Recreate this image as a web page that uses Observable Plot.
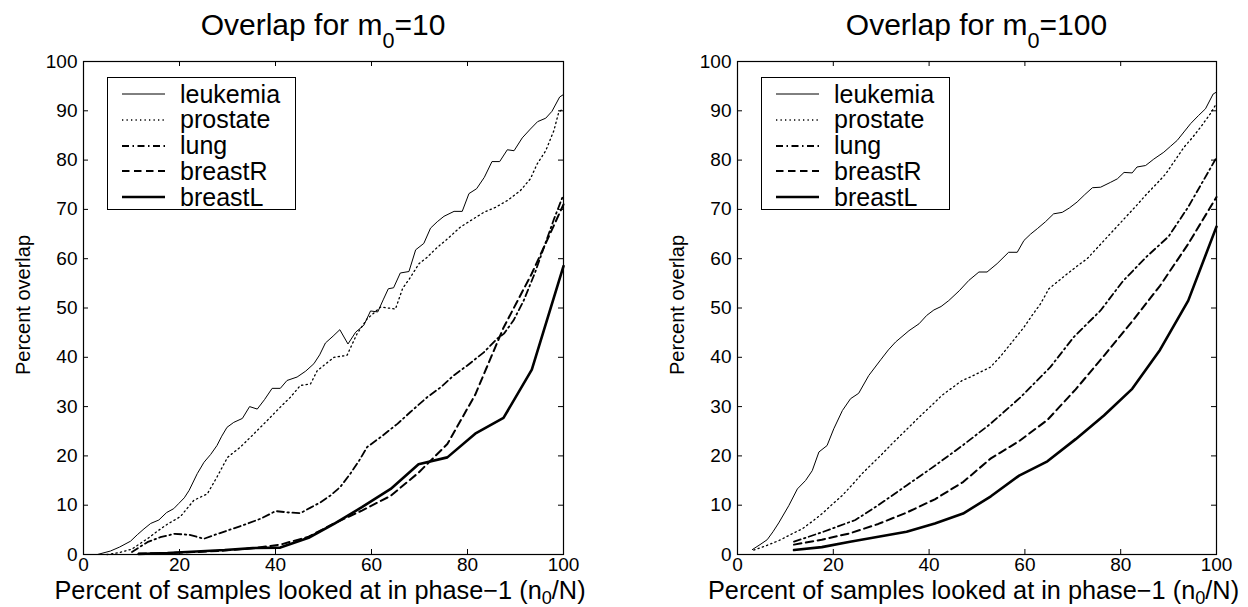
<!DOCTYPE html>
<html>
<head>
<meta charset="utf-8">
<script src="https://cdn.jsdelivr.net/npm/d3@7"></script>
<script src="https://cdn.jsdelivr.net/npm/@observablehq/plot@0.6"></script>
<style>
  body { margin: 0; background: #fff; font-family: "Liberation Sans", Arial, Helvetica, sans-serif; color: #000; }
  #wrap { position: relative; width: 1248px; height: 607px; overflow: hidden; background: #fff; }
  .panel { position: absolute; top: 0; width: 624px; height: 607px; }
  .title { position: absolute; top: 10px; font-size: 30px; line-height: 1; white-space: nowrap; transform: translateX(-50%); }
  .xlabel { position: absolute; top: 578px; font-size: 25.3px; line-height: 1; white-space: nowrap; transform: translateX(-50%); }
  .xlabel sub { top: 0.3em; }
  .ylabel { position: absolute; font-size: 20px; line-height: 1; white-space: nowrap; transform: translate(-50%, -50%) rotate(-90deg); }
  sub { font-size: 72%; vertical-align: baseline; position: relative; top: 0.6em; }
  .legend { position: absolute; border: 1px solid #000; background: #fff; box-sizing: border-box; }
  .lrow { position: absolute; left: 0; height: 26px; display: flex; align-items: center; }
  .lrow svg { margin-left: 14px; }
  .lrow span { margin-left: 15px; font-size: 25px; line-height: 1; }
</style>
</head>
<body>
<div id="wrap"></div>
<script>
// ---------- data ----------
const seriesNames = ["leukemia", "prostate", "lung", "breastR", "breastL"];
const xTicks = [0, 20, 40, 60, 80, 100];
const yTicks = [0, 10, 20, 30, 40, 50, 60, 70, 80, 90, 100];
const titles = ["10", "100"]; // m0 values

// m0 = 10 panel  ([x, y] pairs: percent of samples, percent overlap)
const leukemia10 = [[2.9,0],[5.6,0.7],[7.5,1.5],[9.8,2.7],[11.2,4],[12.6,5.2],[14,6.3],[15.7,7.0],[17.3,8.5],[18.8,9.3],[19.8,10.3],[21,11.5],[22,13],[23.7,16.4],[25.1,18.7],[26.5,20.3],[27.8,22.1],[28.8,24],[29.9,25.8],[31.3,26.8],[33.1,27.6],[34.6,30.0],[36.2,29.5],[37.7,31.4],[39.3,33.7],[41,33.7],[42.4,35.3],[44.5,36.0],[46.3,37.2],[48,38.7],[49.2,40.5],[50.4,42.9],[52,44.3],[53.4,45.6],[55.1,42.7],[56.7,45.1],[58.4,46.5],[59.8,49.4],[61.3,49.2],[62.5,51.8],[63.5,53.9],[64.6,54.1],[66,57.1],[67.8,57.4],[69.2,61.8],[70.9,63.1],[72.3,66.2],[73.7,67.5],[75.1,68.6],[77.2,69.6],[78.9,69.6],[80.3,73.2],[81.9,74.2],[83.5,76.5],[85.1,79.7],[86.7,79.7],[88.3,82.1],[89.7,81.9],[91.4,84.5],[93.1,86.3],[94.6,87.8],[96.3,88.5],[97.6,89.9],[99.2,92.8],[100,93.3]];
const prostate10 = [[4.9,0],[7.5,0.4],[10.1,1.1],[13.3,3.2],[15.5,4.8],[17.4,6.1],[20.2,7.7],[23,11],[25.8,12.3],[27.8,15.7],[30,19.7],[32.7,21.8],[35.1,24.1],[38.3,27.2],[41,29.9],[43.1,31.9],[45.2,34.3],[47.3,34.6],[48.7,37.3],[52.2,40],[54.9,40.4],[57,44.8],[59.1,47.8],[61.9,50.2],[65,49.8],[66.5,54],[68.1,56.2],[69.9,59],[71.6,60.3],[73.7,62.3],[75.8,64],[78.5,66.4],[80.6,67.7],[83.4,69.4],[85.8,70.4],[88.3,71.8],[91,73.8],[93.1,76.2],[94.5,79.2],[96.3,81.9],[98,86],[99,89.7],[100,90.5]];
const lung10 = [[10.1,0.5],[13.3,2.5],[16,3.5],[19,4.2],[22,4.0],[25.1,3.2],[28,4.2],[31,5.2],[34,6.2],[37,7.3],[40,8.8],[43,8.5],[45.2,8.4],[47.3,9.5],[49.4,10.6],[51.5,12],[53.5,13.7],[55.6,16.4],[57.4,19],[59.1,21.8],[61.9,23.8],[65.4,26.5],[68.1,28.9],[71.6,31.9],[74.4,33.9],[77.1,36.3],[79.9,38.3],[83.4,41],[86.2,43.8],[87.6,44.8],[89.6,47.5],[91.7,51.5],[94,57],[96,62.5],[98,68],[100,73]];
const breastR10 = [[11.5,0.2],[17.5,0.3],[23.5,0.5],[29.4,0.8],[35.3,1.3],[41,2.0],[46.9,3.6],[52.2,6.3],[58,8.9],[64,11.9],[69.8,16.6],[75.8,22.4],[81.6,32.4],[87.5,46],[93.4,57],[100,71]];
const breastL10 = [[11.5,0.1],[17.5,0.3],[23.5,0.6],[29.4,0.9],[35.3,1.3],[41,1.4],[46.9,3.4],[52.2,6.2],[58,9.6],[64,13.3],[69.8,18.3],[75.8,19.7],[81.6,24.5],[87.5,27.7],[93.4,37.5],[100,58.5]];

// m0 = 100 panel
const leukemia100 = [[3.1,1.0],[4.7,2.0],[6.2,3.0],[7.4,4.6],[8.6,6.4],[10.7,9.9],[12.5,13.3],[14.2,15],[15.6,17],[17,20.8],[18.7,22.1],[20.1,25.5],[21.9,29.2],[23.6,31.6],[25.3,32.7],[27.4,36.3],[29.9,39.5],[31.5,41.5],[33,43.1],[35.8,45.4],[37.9,46.8],[39.5,48.5],[41,49.6],[42.5,50.3],[44.1,51.5],[46.3,53.5],[48.3,55.6],[50.4,57.3],[52.1,57.3],[54.2,59],[56.6,61.3],[58.4,61.3],[59.8,63.7],[61.2,65],[62.6,66.1],[64.3,67.5],[66,69.1],[67.8,69.4],[69.3,70.3],[70.9,71.5],[72.5,73],[74.1,74.4],[75.8,74.5],[77.9,75.5],[79.3,76.2],[80.7,77.5],[82.4,77.4],[83.4,78.6],[85.2,78.9],[86.9,80.2],[89,81.6],[90.4,82.8],[91.8,84],[93.2,85.7],[94.6,87.4],[96.2,89],[97.7,90.4],[99.3,93.4],[100,93.8]];
const prostate100 = [[3.4,0.9],[6,1.8],[8.6,2.8],[11,4],[13.5,5.2],[15.6,6.7],[17.7,8.3],[19.8,10.2],[21.9,12],[24,14.2],[26,16.4],[28.1,18.4],[30.2,20.4],[32.3,22.5],[34.4,24.5],[36.5,26.5],[38.6,28.5],[40.7,30.4],[42.7,32.3],[44.8,33.8],[46.9,35.3],[48.6,36],[50.7,37],[52.8,38],[55,40.3],[57,42.7],[59.8,46.1],[61.5,48.5],[63.3,50.9],[65,53.9],[66.9,55.4],[68.8,56.9],[70.9,58.5],[73,60],[75.1,62.2],[77.2,64.4],[79.3,66.6],[81.4,68.8],[83.5,71],[85.5,73.2],[87.5,75.2],[89.4,77.2],[91.3,79.9],[93.2,82.6],[95,84.6],[96.7,86.7],[98.7,89.4],[100,91.5]];
const lung100 = [[11.8,2.6],[17.6,4.5],[24.6,7.0],[29.4,10],[35.3,14],[41.2,18],[47.1,22.2],[52.8,26.5],[59.1,31.9],[65.3,38],[70.2,44.1],[75.8,49.5],[80.5,55.5],[85.5,60.5],[90,64.5],[94.1,70.5],[100,80.5]];
const breastR100 = [[11.8,2.0],[17.6,3.0],[23.5,4.3],[29.4,6.2],[35.3,8.5],[41.2,11.2],[47.1,14.7],[52.9,19.5],[58.8,23],[64.7,27.3],[70.6,33.5],[76.5,40.3],[82.4,47.3],[88.2,54.5],[94.1,63],[100,72.5]];
const breastL100 = [[11.8,0.9],[17.6,1.5],[23.5,2.6],[29.4,3.6],[35.3,4.6],[41.2,6.3],[47.1,8.3],[52.9,11.8],[58.8,16.0],[64.7,18.9],[70.6,23.4],[76.5,28.2],[82.4,33.6],[88.2,41.5],[94.1,51.5],[100,66.5]];

// ---------- styles ----------
const lineStyle = {
  leukemia: { strokeWidth: 1, dash: null },
  prostate: { strokeWidth: 1.3, dash: "1.3,3.2" },
  lung:     { strokeWidth: 1.8, dash: "7,3.5,1.5,3.5" },
  breastR:  { strokeWidth: 2, dash: "7.5,4.5" },
  breastL:  { strokeWidth: 2.6, dash: null }
};

const H = 607, MT = 61, MB = 53;
const panels = [
  { left: 0,   width: 624, ml: 83,  mr: 61, m0: titles[0], data: [leukemia10, prostate10, lung10, breastR10, breastL10], legendX: 107 },
  { left: 624, width: 624, ml: 113, mr: 32, m0: titles[1], data: [leukemia100, prostate100, lung100, breastR100, breastL100], legendX: 137 }
];

const wrap = document.getElementById("wrap");

panels.forEach(p => {
  const pw = p.width - p.ml - p.mr;
  const ph = H - MT - MB;
  const lines = p.data.map((arr, i) => {
    const st = lineStyle[seriesNames[i]];
    const o = { x: d => d[0], y: d => d[1], stroke: "black", strokeWidth: st.strokeWidth, strokeLinejoin: "miter" };
    if (st.dash) o.strokeDasharray = st.dash;
    return Plot.line(arr, o);
  });
  const chart = Plot.plot({
    width: p.width, height: H,
    marginLeft: p.ml, marginRight: p.mr, marginTop: MT, marginBottom: MB,
    x: { domain: [0, 100], label: null },
    y: { domain: [0, 100], label: null },
    style: { fontFamily: "'Liberation Sans', Arial, Helvetica, sans-serif", fontSize: "19px", background: "white", color: "black", overflow: "visible" },
    marks: [
      ...lines,
      Plot.tickX(xTicks, { x: d => d, insetTop: ph - 5, stroke: "black" }),
      Plot.tickX(xTicks, { x: d => d, insetBottom: ph - 5, stroke: "black" }),
      Plot.tickY(yTicks, { y: d => d, insetRight: pw - 5, stroke: "black" }),
      Plot.tickY(yTicks, { y: d => d, insetLeft: pw - 5, stroke: "black" }),
      Plot.frame({ stroke: "black", strokeWidth: 1.2 }),
      Plot.axisX(xTicks, { tickSize: 0, tickPadding: 3, label: null, tickFormat: d => String(d) }),
      Plot.axisY(yTicks, { tickSize: 0, tickPadding: 6, label: null, tickFormat: d => String(d) })
    ]
  });
  const div = document.createElement("div");
  div.className = "panel";
  div.style.left = p.left + "px";
  div.appendChild(chart);
  wrap.appendChild(div);

  const cx = p.ml + pw / 2;
  const t = document.createElement("div");
  t.className = "title";
  t.style.left = cx + "px";
  t.innerHTML = "Overlap for m<sub>0</sub>=" + p.m0;
  div.appendChild(t);

  const xl = document.createElement("div");
  xl.className = "xlabel";
  xl.style.left = (cx - 3) + "px";
  xl.innerHTML = "Percent of samples looked at in phase\u22121 (n<sub>0</sub>/N)";
  div.appendChild(xl);

  const yl = document.createElement("div");
  yl.className = "ylabel";
  yl.style.left = (p.ml - 60) + "px";
  yl.style.top = "305px";
  yl.textContent = "Percent overlap";
  div.appendChild(yl);

  const lg = document.createElement("div");
  lg.className = "legend";
  lg.style.left = p.legendX + "px";
  lg.style.top = "77px";
  lg.style.width = "189px";
  lg.style.height = "133px";
  seriesNames.forEach((name, i) => {
    const st = lineStyle[name];
    const row = document.createElement("div");
    row.className = "lrow";
    row.style.top = (3 + i * 25.8) + "px";
    const dash = st.dash ? ` stroke-dasharray="${st.dash}"` : "";
    row.innerHTML = `<svg width="43" height="8"><line x1="0" y1="4" x2="43" y2="4" stroke="black" stroke-width="${st.strokeWidth}"${dash}/></svg><span>${name}</span>`;
    lg.appendChild(row);
  });
  div.appendChild(lg);
});
</script>
</body>
</html>
